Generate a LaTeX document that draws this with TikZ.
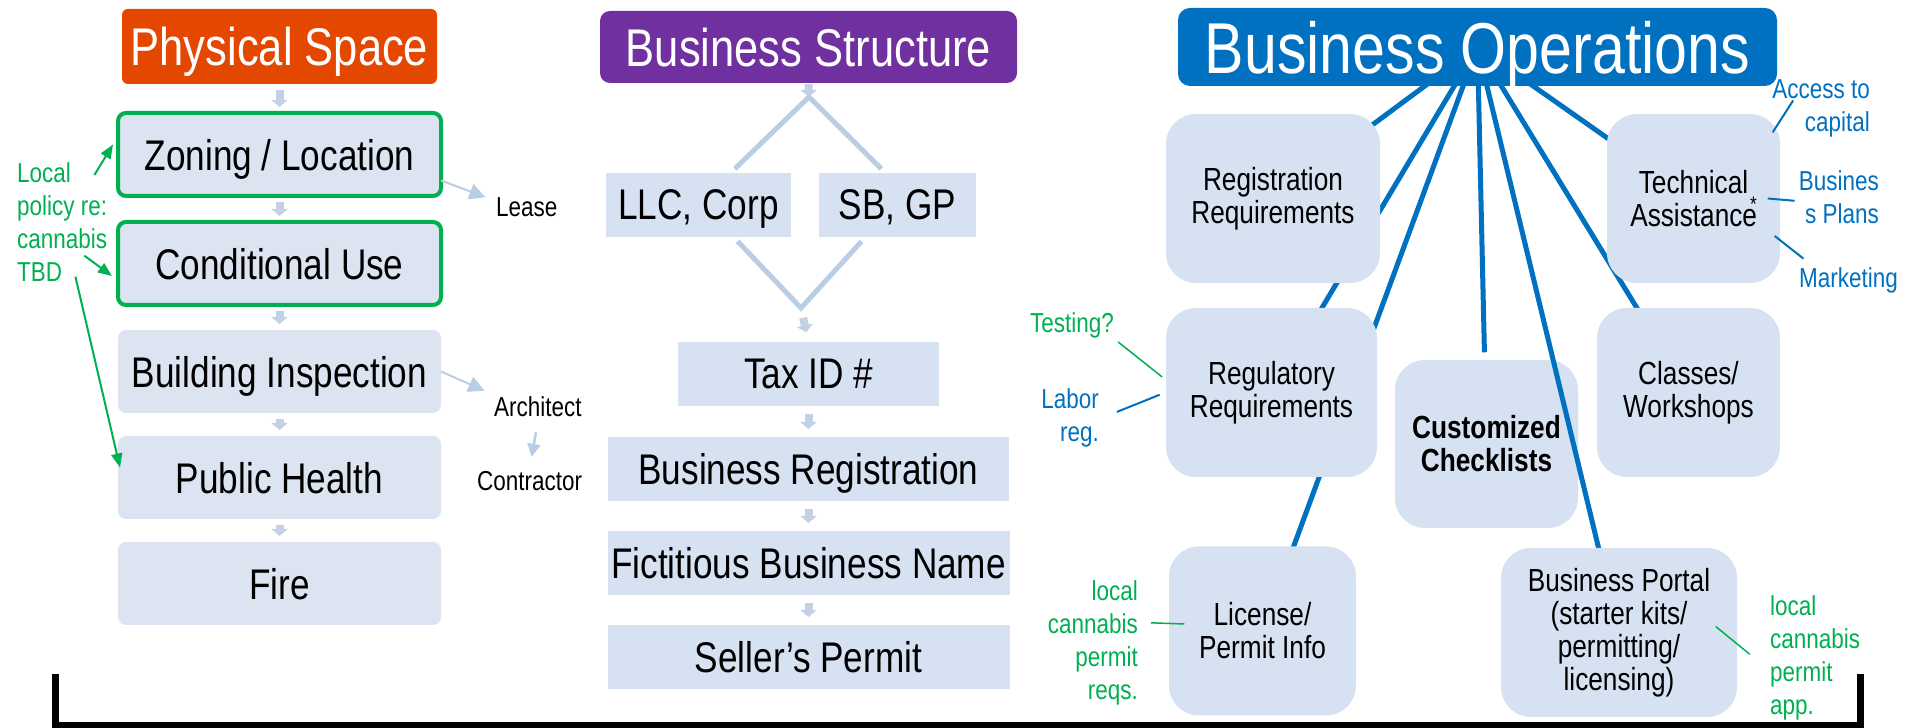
\documentclass[tikz,border=0pt]{standalone}
\usepackage{fontspec}
\setmainfont{Liberation Sans}[FakeStretch=0.82]
\usetikzlibrary{arrows.meta,positioning}

\definecolor{spaceorange}{RGB}{228,72,0}
\definecolor{structpurple}{RGB}{112,48,160}
\definecolor{opsblue}{RGB}{0,112,192}
\definecolor{notegreen}{RGB}{0,176,80}
\definecolor{stepfill}{RGB}{220,228,241}
\definecolor{boxfill}{RGB}{214,225,241}
\definecolor{paleblue}{RGB}{185,205,229}
\definecolor{stubgray}{RGB}{196,208,228}

\pgfdeclarelayer{background}
\pgfsetlayers{background,main}

\begin{document}
\begin{tikzpicture}[
    header/.style={text=white,rounded corners=0.06cm,inner sep=0pt,outer sep=0pt,text depth=0pt,font=\fontsize{15.1}{18}\selectfont},
    spacebox/.style={fill=stepfill,rounded corners=0.08cm,minimum width=3.23cm,minimum height=0.83cm,inner sep=0pt,outer sep=0pt,text depth=0pt,font=\fontsize{12.2}{14}\selectfont},
    zonebox/.style={spacebox,draw=notegreen,line width=0.04cm},
    structbox/.style={fill=boxfill,minimum height=0.64cm,inner sep=0pt,outer sep=0pt,text depth=0pt,font=\fontsize{12.2}{14}\selectfont},
    opsbox/.style={fill=boxfill,rounded corners=0.3cm,minimum height=1.69cm,inner sep=0pt,align=center,font=\fontsize{9.1}{9.4}\selectfont},
    note/.style={inner sep=1pt,font=\fontsize{7.8}{9.4}\selectfont},
    stub/.style={draw=stubgray,line width=0.08cm,-{Triangle[length=0.07cm,width=0.16cm]},shorten <=0.06cm,shorten >=0.06cm},
    branch/.style={draw=paleblue,line width=0.05cm,shorten <=0.06cm,shorten >=0.06cm},
    pointer/.style={draw=paleblue,line width=0.02cm,-{Triangle[length=0.16cm,width=0.16cm]}},
    spoke/.style={draw=opsblue,line width=0.05cm},
    greenarrow/.style={draw=notegreen,line width=0.02cm,-{Triangle[length=0.14cm,width=0.11cm]}},
    greenline/.style={draw=notegreen,line width=0.015cm},
    blueline/.style={draw=opsblue,line width=0.02cm}
]
\useasboundingbox (0,0) rectangle (19.13,7.28);

% Physical space column
\node[header,fill=spaceorange,minimum width=3.15cm,minimum height=0.75cm] (phys) at (2.795,6.815) {Physical Space};
\node[zonebox] (zoning) [below=0.29cm of phys] {Zoning / Location};
\node[zonebox] (conduse) [below=0.26cm of zoning] {Conditional Use};
\node[spacebox] (bldg) [below=0.25cm of conduse] {Building Inspection};
\node[spacebox] (health) [below=0.23cm of bldg] {Public Health};
\node[spacebox] (fire) [below=0.23cm of health] {Fire};

\foreach \a/\b in {phys/zoning,zoning/conduse,conduse/bldg,bldg/health,health/fire}
    \draw[stub] (\a) -- (\b);

% side notes of the first column
\node[note,anchor=base west] (lease) at (4.92,5.11) {Lease};
\node[note,anchor=base west] (architect) at (4.90,3.11) {Architect};
\node[note,anchor=base west] (contractor) at (4.73,2.37) {Contractor};
\draw[pointer,shorten >=0.07cm] ([yshift=-0.26cm]zoning.east) -- ([yshift=0.08cm]lease.west);
\draw[pointer,shorten >=0.06cm] (bldg.east) -- ([yshift=0.14cm]architect.west);
\draw[draw=paleblue,line width=0.025cm,-{Triangle[length=0.13cm,width=0.13cm]},shorten <=0.11cm,shorten >=0.11cm] (architect.south) -- (contractor.north);

\node[note,text=notegreen,align=left,anchor=north west] (policy) at (0.13,5.70) {Local\\policy re:\\cannabis\\TBD};
\draw[greenarrow] ([xshift=-0.17cm,yshift=-0.17cm]policy.north east) -- ([xshift=-0.05cm,yshift=0.1cm]zoning.west);
\draw[greenarrow] ([xshift=-0.27cm,yshift=-0.34cm]policy.east) -- ([xshift=-0.06cm,yshift=-0.125cm]conduse.west);
\draw[greenarrow] ([xshift=-0.36cm,yshift=-0.55cm]policy.east) -- ([xshift=0.02cm,yshift=0.1cm]health.west);

% Business structure column
\node[header,fill=structpurple,minimum width=4.17cm,minimum height=0.72cm,rounded corners=0.1cm] (bstruct) at (8.085,6.81) {Business Structure};
\node[structbox,minimum width=1.85cm] (llc) at (6.985,5.23) {LLC, Corp};
\node[structbox,minimum width=1.57cm] (sbgp) at (8.975,5.23) {SB, GP};
\node[structbox,minimum width=2.61cm] (taxid) at (8.085,3.54) {Tax ID \#};
\node[structbox,minimum width=4.01cm] (bizreg) [below=0.31cm of taxid] {Business Registration};
\node[structbox,minimum width=4.02cm] (fictname) [below=0.30cm of bizreg] {Fictitious Business Name};
\node[structbox,minimum width=4.02cm] (sellers) [below=0.30cm of fictname] {Seller’s Permit};

\coordinate (split) at (8.09,6.31);
\coordinate (merge) at (8.01,4.20);
\draw[stub,shorten <=0.01cm,shorten >=0cm] (bstruct.south) -- (split);
\draw[branch] ([xshift=0.32cm]llc.north) -- (split) -- ([xshift=-0.12cm]sbgp.north);
\draw[branch] ([xshift=0.35cm]llc.south) -- (merge) -- ([xshift=-0.32cm]sbgp.south);
\draw[stub,shorten <=0.1cm,shorten >=0.1cm] (merge) -- (taxid.north);
\foreach \a/\b in {taxid/bizreg,bizreg/fictname,fictname/sellers}
    \draw[stub,shorten <=0.08cm,shorten >=0.08cm] (\a) -- (\b);

% Business operations
\node[header,fill=opsblue,minimum width=5.99cm,minimum height=0.78cm,rounded corners=0.12cm,font=\fontsize{20.5}{24}\selectfont] (ops) at (14.775,6.81) {Business Operations};
\node[opsbox,minimum width=2.14cm] (regreq) at (12.73,5.295) {Registration\\Requirements};
\node[opsbox,minimum width=1.73cm] (techassist) at (16.935,5.295) {Technical\\Assistance\kern-2pt\raisebox{0.9ex}{\fontsize{6}{6}\selectfont*}};
\node[opsbox,minimum width=2.11cm] (regulatory) at (12.715,3.355) {Regulatory\\Requirements};
\node[opsbox,minimum width=1.83cm] (classes) at (16.885,3.355) {Classes/\\Workshops};
\node[opsbox,minimum width=1.87cm] (license) at (12.625,0.97) {License/\\Permit Info};
\node[opsbox,minimum width=2.36cm] (portal) at (16.19,0.955) {Business Portal\\(starter kits/\\permitting/\\licensing)};

\begin{pgfonlayer}{background}
\node[opsbox,minimum width=1.83cm,minimum height=1.68cm,font=\fontsize{9.1}{9.4}\selectfont\bfseries] (checklist) at (14.865,2.84) {Customized\\Checklists};
\foreach \target in {regreq,regulatory,license,techassist,classes,portal}
    \draw[spoke] (ops.center) -- (\target.center);
\draw[spoke,shorten >=0.07cm] (ops.center) -- (checklist);
\end{pgfonlayer}

% notes round the operations boxes
\node[note,text=notegreen,anchor=north west] (testing) at (10.26,4.20) {Testing?};
\node[note,text=opsblue,align=right,anchor=north east] (labor) at (11.03,3.44) {Labor\\reg.};
\node[note,text=notegreen,align=right,anchor=north east] (permitreqs) at (11.42,1.52) {local\\cannabis\\permit\\reqs.};
\node[note,text=notegreen,align=left,anchor=north west] (permitapp) at (17.66,1.37) {local\\cannabis\\permit\\app.};
\node[note,text=opsblue,align=right,anchor=north east] (capital) at (18.74,6.53) {Access to\\capital};
\node[note,text=opsblue,align=right,anchor=north east] (busplans) at (18.83,5.62) {Busines\\s Plans};
\node[note,text=opsblue,anchor=north west] (marketing) at (17.95,4.65) {Marketing};

\draw[greenline,shorten >=0.04cm] (testing.south east) -- ([yshift=0.13cm]regulatory.west);
\draw[blueline,shorten <=0.15cm,shorten >=0.06cm] (labor.east) -- (regulatory.west);
\draw[greenline,shorten <=0.09cm] ([yshift=0.2cm]permitreqs.east) -- ([xshift=0.16cm,yshift=0.07cm]license.west);
\draw[greenline,shorten >=0.21cm] ([xshift=-0.22cm,yshift=0.06cm]portal.east) -- ([yshift=-0.1cm]permitapp.west);
\draw[blueline] ([xshift=-0.08cm,yshift=-0.19cm]techassist.north east) -- ([xshift=0.25cm,yshift=0.075cm]capital.west);
\draw[blueline] ([xshift=-0.13cm]techassist.east) -- ([yshift=-0.04cm]busplans.west);
\draw[blueline,shorten >=0.07cm] ([xshift=-0.06cm,yshift=-0.375cm]techassist.east) -- ([xshift=0.14cm]marketing.north west);

% bracket under everything
\draw[line width=0.07cm] (0.55,0.54) -- (0.55,0.025) -- (18.60,0.025) -- (18.60,0.54);

\end{tikzpicture}
\end{document}
